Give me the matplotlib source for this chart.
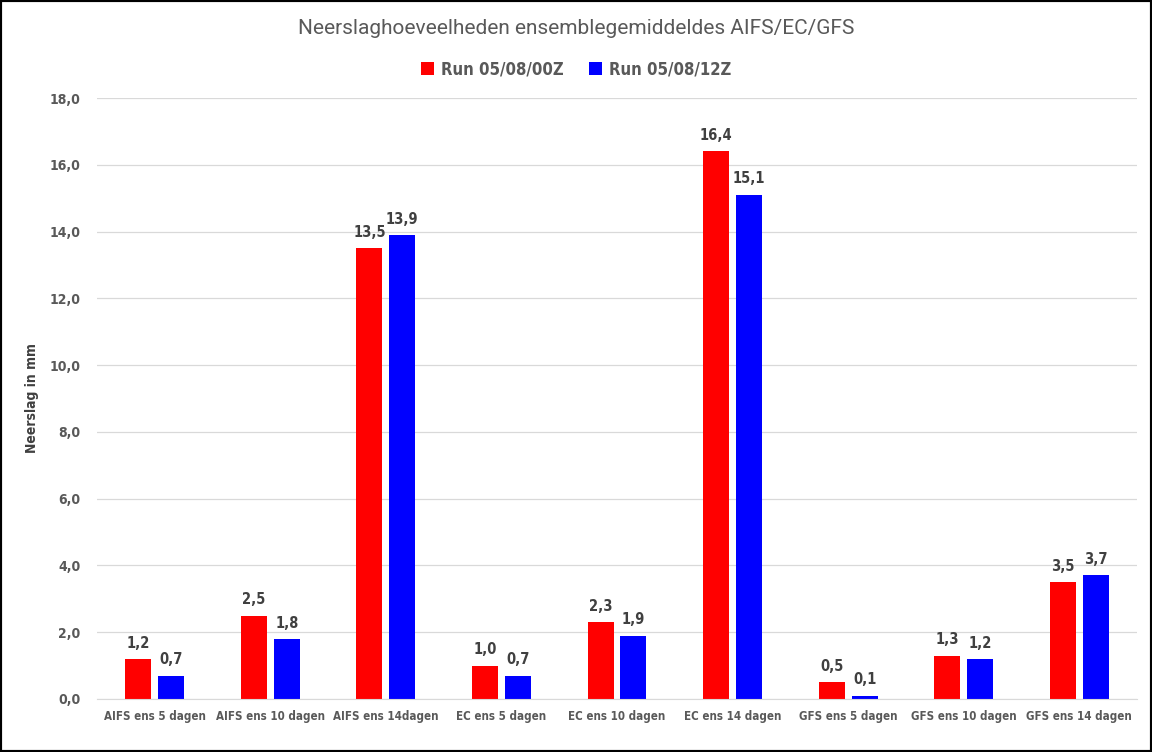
import matplotlib
matplotlib.use("Agg")
import matplotlib.pyplot as plt
import numpy as np
from matplotlib.ticker import FuncFormatter, MultipleLocator
from matplotlib import font_manager

categories = ["AIFS ens 5 dagen", "AIFS ens 10 dagen", "AIFS ens 14dagen",
              "EC ens 5 dagen", "EC ens 10 dagen", "EC ens 14 dagen",
              "GFS ens 5 dagen", "GFS ens 10 dagen", "GFS ens 14 dagen"]
run_00z = [1.2, 2.5, 13.5, 1.0, 2.3, 16.4, 0.5, 1.3, 3.5]
run_12z = [0.7, 1.8, 13.9, 0.7, 1.9, 15.1, 0.1, 1.2, 3.7]
series_names = ["Run 05/08/00Z", "Run 05/08/12Z"]

cond = [f for f in font_manager.fontManager.ttflist if 'ondens' in f.fname or 'arrow' in f.fname]
narrow = None
for f in cond:
    if 'Bold' in f.fname or f.weight in (700, 'bold'):
        narrow = f.fname
        break

plt.rcParams['font.family'] = ['Roboto', 'DejaVu Sans']
txt = '#595959'
if narrow:
    bold_fp = font_manager.FontProperties(fname=narrow)
else:
    bold_fp = font_manager.FontProperties(family='Roboto', weight='bold')

fig = plt.figure(figsize=(11.52, 7.52), dpi=100)
ax = fig.add_axes([97/1152, 1 - 699/752, 1040/1152, 601/752])

x = np.arange(len(categories))
w = 0.225
gap = 0.06
b1 = ax.bar(x - (w + gap) / 2, run_00z, w, color='#FF0000', label=series_names[0])
b2 = ax.bar(x + (w + gap) / 2, run_12z, w, color='#0000FF', label=series_names[1])

fmt = lambda v: f"{v:.1f}".replace('.', ',')
lbl_fp = bold_fp.copy(); lbl_fp.set_size(10.5)
for bars in (b1, b2):
    for r in bars:
        ax.annotate(fmt(r.get_height()), (r.get_x() + r.get_width() / 2, r.get_height()),
                    xytext=(0, 6), textcoords='offset points', ha='center', va='bottom',
                    fontproperties=lbl_fp, color='#404040')

ax.set_xlim(-0.5, len(categories) - 0.5)
ax.set_ylim(0, 18)
ax.yaxis.set_major_locator(MultipleLocator(2))
ax.yaxis.set_major_formatter(FuncFormatter(lambda v, p: fmt(v)))
ax.set_xticks(x)
ax.set_xticklabels(categories)
ytick_fp = bold_fp.copy(); ytick_fp.set_size(10)
xtick_fp = bold_fp.copy(); xtick_fp.set_size(8.3)
for lab in ax.get_yticklabels():
    lab.set_fontproperties(ytick_fp)
    lab.set_color(txt)
for lab in ax.get_xticklabels():
    lab.set_fontproperties(xtick_fp)
    lab.set_color(txt)
ax.tick_params(axis='both', length=0, pad=12)
ax.tick_params(axis='x', pad=8)
ax.grid(axis='y', color='#D9D9D9', linewidth=0.9)
ax.set_axisbelow(True)
for s in ['top', 'right', 'left']:
    ax.spines[s].set_visible(False)
ax.spines['bottom'].set_color('#D9D9D9')
yl_fp = bold_fp.copy(); yl_fp.set_size(10)
ax.set_ylabel("Neerslag in mm", fontproperties=yl_fp, color='#404040')
ax.yaxis.set_label_coords(-58/1040, 0.5)

fig.text(0.5, 1 - 28/752, "Neerslaghoeveelheden ensemblegemiddeldes AIFS/EC/GFS",
         ha='center', va='center', fontsize=15, color=txt)
leg_fp = bold_fp.copy(); leg_fp.set_size(12)
leg = fig.legend(loc='center', bbox_to_anchor=(0.5, 1 - 69/752), ncol=2, frameon=False,
                 handlelength=0.8, handleheight=0.8, handletextpad=0.4, columnspacing=1.5,
                 prop=leg_fp)
for t in leg.get_texts():
    t.set_color(txt)

fig.patches.append(plt.Rectangle((0, 0), 1, 1, transform=fig.transFigure, fill=False,
                                 edgecolor='black', linewidth=3))
fig.savefig("out.png", dpi=100)
